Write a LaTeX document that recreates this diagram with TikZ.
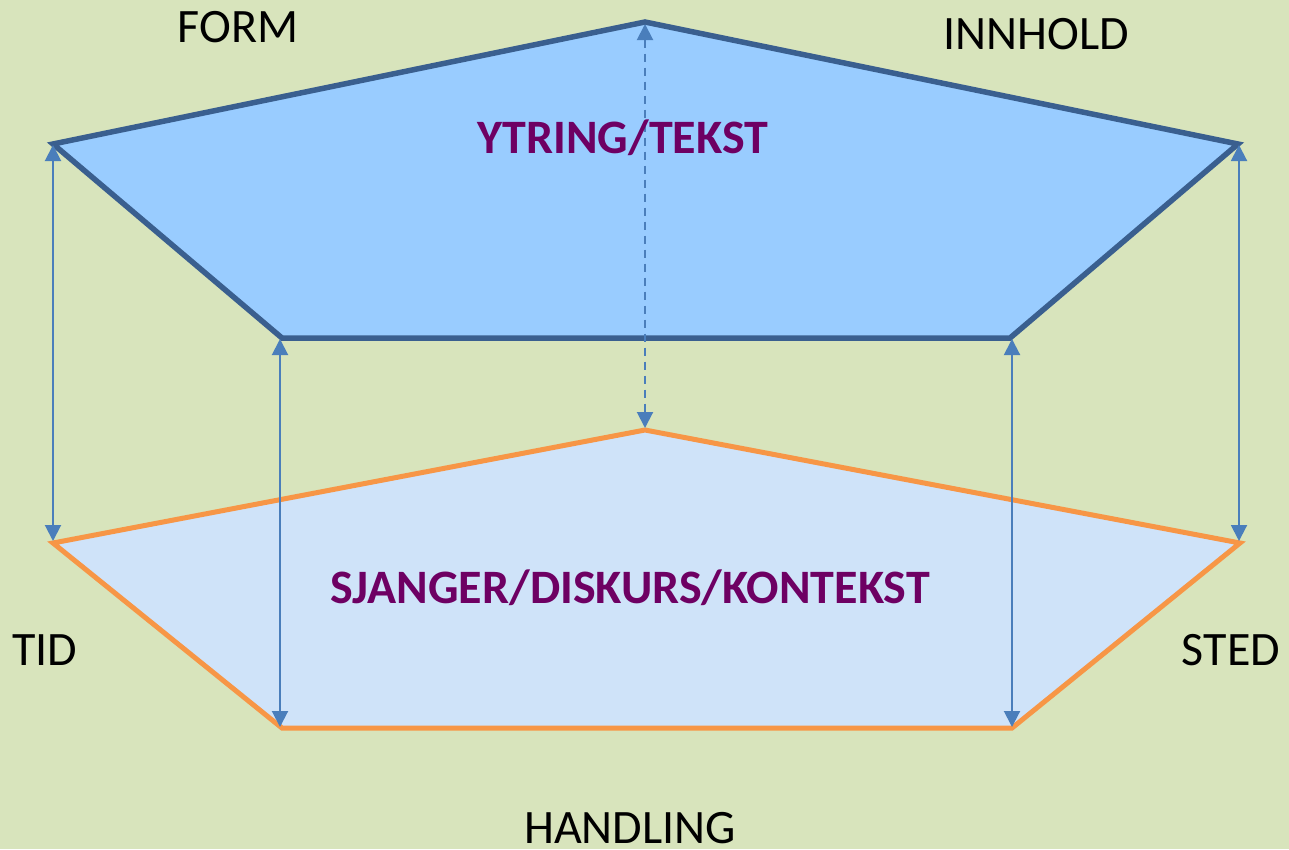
\documentclass[tikz,border=0pt]{standalone}
\usepackage{fontspec}
\setmainfont{Carlito}
\usetikzlibrary{arrows.meta}
\definecolor{bg}{HTML}{D8E4BC}
\definecolor{topfill}{HTML}{99CCFF}
\definecolor{topline}{HTML}{3A5F8F}
\definecolor{lowfill}{HTML}{CFE3F9}
\definecolor{lowline}{HTML}{F79646}
\definecolor{arr}{HTML}{4A7EBB}
\definecolor{purp}{HTML}{6E0063}
\tikzset{
  conn/.style={draw=arr, line width=2pt, {Triangle[length=16pt,width=16pt]}-{Triangle[length=16pt,width=16pt]}},
  dconn/.style={conn, dash pattern=on 8pt off 6pt},
  lbl/.style={font=\fontsize{48}{56}\selectfont, text=black, inner sep=0pt},
  title/.style={font=\fontsize{48}{56}\selectfont\bfseries, text=purp, inner sep=0pt}
}
\begin{document}
\begin{tikzpicture}[x=1pt,y=-1pt]
\fill[bg] (0,0) rectangle (1289,849);
\useasboundingbox (0,0) rectangle (1289,849);
% coordinates
\coordinate (tl) at (53,144);
\coordinate (tt) at (645,22);
\coordinate (tr) at (1238,144);
\coordinate (tbr) at (1010,338);
\coordinate (tbl) at (282,338);
\coordinate (ll) at (53,543);
\coordinate (lt) at (645,430);
\coordinate (lr) at (1240,543);
\coordinate (lbr) at (1012,728);
\coordinate (lbl) at (282,728);
% pentagons
\draw[fill=lowfill, draw=lowline, line width=5pt, line join=miter] (ll) -- (lt) -- (lr) -- (lbr) -- (lbl) -- cycle;
\draw[fill=topfill, draw=topline, line width=5.5pt, line join=miter] (tl) -- (tt) -- (tr) -- (tbr) -- (tbl) -- cycle;
% arrow endpoints
\coordinate (a1t) at (53,145);
\coordinate (a1b) at (53,541);
\coordinate (a2t) at (280,339);
\coordinate (a2b) at (280,727);
\coordinate (a3t) at (645,24);
\coordinate (a3b) at (645,428);
\coordinate (a4t) at (1012,339);
\coordinate (a4b) at (1012,727);
\coordinate (a5t) at (1239,145);
\coordinate (a5b) at (1239,541);
\draw[conn] (a1t) -- (a1b);
\draw[conn] (a2t) -- (a2b);
\draw[dconn] (a3t) -- (a3b);
\draw[conn] (a4t) -- (a4b);
\draw[conn] (a5t) -- (a5b);
% labels
\node[lbl] (form) at (238,27) {FORM};
\node[lbl] (innhold) at (1036,34) {INNHOLD};
\node[lbl] (tid) at (45,650) {TID};
\node[lbl] (sted) at (1231,650) {STED};
\node[lbl] (handling) at (630,828) {HANDLING};
\node[title] (ytring) at (623,138) {YTRING/TEKST};
\node[title] (sjanger) at (630,588) {SJANGER/DISKURS/KONTEKST};
\end{tikzpicture}
\end{document}
